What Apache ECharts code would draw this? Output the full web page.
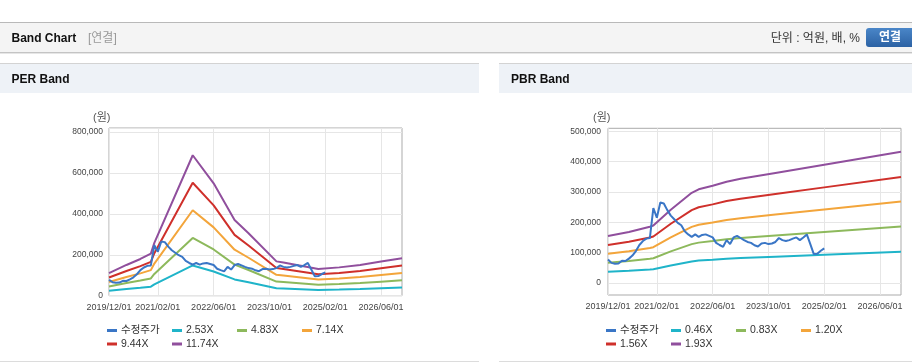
<!DOCTYPE html>
<html><head><meta charset="utf-8">
<script src="https://cdn.jsdelivr.net/npm/echarts@6/dist/echarts.min.js"></script>
<style>html,body{margin:0;padding:0;background:#fff}#c{width:912px;height:364px}</style>
</head><body><div id="c"></div>
<script>
const FONT = "'Liberation Sans', 'Noto Sans CJK KR', sans-serif";

// x axis: monthly categories 2019/12 .. 2026/12
const startYear = 2019, startMonth = 12, monthCount = 85;
const categories = [];
for (let i = 0; i < monthCount; i++) {
  const m = startMonth - 1 + i;
  categories.push((startYear + Math.floor(m / 12)) + '/' + String(m % 12 + 1).padStart(2, '0') + '/01');
}
const tickLabels = ['2019/12/01', '2021/02/01', '2022/06/01', '2023/10/01', '2025/02/01', '2026/06/01'];

// 수정주가 (monthly, 2019/12 .. 2025/02)
const price = [77000, 66000, 63000, 64000, 73000, 72000, 80000, 90000, 105000, 125000, 138000, 146000, 148000,
  247000, 215000, 265000, 262000, 240000, 222000, 210000, 198000, 190000, 170000, 160000, 152000,
  160000, 152000, 158000, 160000, 155000, 150000, 132000, 125000, 119000, 141000, 128000, 150000,
  155000, 148000, 141000, 135000, 132000, 124000, 120000, 130000, 132000, 128000, 130000, 135000,
  148000, 141000, 138000, 141000, 146000, 150000, 141000, 150000, 160000, 128000, 95000, 96000, 106000, 114000];

// PER band (values at month indices perIdx)
const perNames = ['2.53X', '4.83X', '7.14X', '9.44X', '11.74X'];
const perIdx = [0, 5, 9, 12, 13, 24, 30, 36, 40, 48, 50, 60, 66, 72, 78, 84];
const per253 = [23800, 32400, 38700, 44300, 55700, 148000, 118400, 79700, 65800, 36200, 34900, 28100, 29900, 32400, 35900, 39500];
const per483 = [45400, 61800, 73900, 84500, 106300, 282600, 226000, 152100, 125600, 69100, 66700, 53600, 57000, 61800, 68600, 75300];
const per714 = [67100, 91400, 109200, 125000, 157100, 417700, 334200, 224900, 185600, 102100, 98500, 79300, 84300, 91400, 101400, 111400];
const per944 = [88700, 120800, 144400, 165200, 207700, 552200, 441800, 297400, 245400, 135000, 130300, 104800, 111400, 120800, 134000, 147300];
const per1174 = [110400, 150300, 179600, 205500, 258300, 686800, 549400, 369800, 305200, 167900, 162000, 130300, 138500, 150300, 166700, 183100];

// PBR band (values at month indices pbrIdx)
const pbrNames = ['0.46X', '0.83X', '1.20X', '1.56X', '1.93X'];
const pbrIdx = [0, 6, 12, 13, 18, 24, 26, 30, 34, 38, 48, 62, 84];
const pbr046 = [36800, 40000, 44200, 45100, 57500, 70800, 73600, 76400, 79600, 81900, 86500, 92900, 103000];
const pbr083 = [66400, 72200, 79700, 81300, 103800, 127800, 132800, 137800, 143600, 147700, 156000, 167700, 185900];
const pbr120 = [96000, 104400, 115200, 117600, 150000, 184800, 192000, 199200, 207600, 213600, 225600, 242400, 268800];
const pbr156 = [124800, 135700, 149800, 152900, 195000, 240200, 249600, 259000, 269900, 277700, 293300, 315100, 349400];
const pbr193 = [154400, 167900, 185300, 189100, 241300, 297200, 308800, 320400, 333900, 343500, 362800, 389900, 432300];

const priceColor = '#3a76c6';
const bandColors = ['#1fb4c9', '#8db95c', '#f3a53b', '#cf302b', '#904f9d'];

const pairs = (idx, vals) => idx.map((x, i) => [x, vals[i]]);
const isTick = (i) => tickLabels.indexOf(categories[i]) >= 0;
const fmt = (v) => String(v).replace(/\B(?=(\d{3})+(?!\d))/g, ',');

function xAxis(gi) {
  return {
    type: 'category', gridIndex: gi, data: categories, boundaryGap: false,
    axisLine: { show: false }, axisTick: { show: false },
    axisLabel: { interval: isTick, fontSize: 9, color: '#444', fontFamily: FONT, margin: 7 },
    splitLine: { show: true, interval: isTick, lineStyle: { color: '#e6e6e6', width: 1 } }
  };
}

const chart = echarts.init(document.getElementById('c'), null, { renderer: 'canvas' });

const series = [];
const perVals = [per253, per483, per714, per944, per1174];
const pbrVals = [pbr046, pbr083, pbr120, pbr156, pbr193];
perNames.forEach((n, i) => series.push({
  name: n, type: 'line', xAxisIndex: 0, yAxisIndex: 0, data: pairs(perIdx, perVals[i]),
  showSymbol: false, symbol: 'none', lineStyle: { width: 2, color: bandColors[i] }, itemStyle: { color: bandColors[i] }, z: 2
}));
series.push({
  name: '수정주가', type: 'line', xAxisIndex: 0, yAxisIndex: 0, data: price,
  showSymbol: false, symbol: 'none', lineStyle: { width: 2, color: priceColor }, itemStyle: { color: priceColor }, z: 3
});
pbrNames.forEach((n, i) => series.push({
  name: n, type: 'line', xAxisIndex: 1, yAxisIndex: 1, data: pairs(pbrIdx, pbrVals[i]),
  showSymbol: false, symbol: 'none', lineStyle: { width: 2, color: bandColors[i] }, itemStyle: { color: bandColors[i] }, z: 2
}));
series.push({
  name: '수정주가', type: 'line', xAxisIndex: 1, yAxisIndex: 1, data: price,
  showSymbol: false, symbol: 'none', lineStyle: { width: 2, color: priceColor }, itemStyle: { color: priceColor }, z: 3
});

function legend(name, x, y) {
  return {
    data: [name], left: x, top: y - 7, padding: 0, itemWidth: 10, itemHeight: 3, icon: 'rect',
    selectedMode: false, itemGap: 0,
    textStyle: { fontSize: 10.5, color: '#333', fontFamily: FONT, lineHeight: 14, padding: [0, 0, 0, -1] }
  };
}
const leftLegendNames = ['수정주가'].concat(perNames);
const rightLegendNames = ['수정주가'].concat(pbrNames);
const colX = [[107, 172, 237, 302], [606, 671, 736, 801]];
const legends = [];
[leftLegendNames, rightLegendNames].forEach((names, side) => {
  names.forEach((n, i) => {
    const row = i < 4 ? 0 : 1;
    const col = i < 4 ? i : i - 4;
    legends.push(legend(n, colX[side][col], row === 0 ? 330.5 : 344));
  });
});

const txt = (x, y, t, o) => ({ type: 'text', x, y, style: Object.assign({ text: t, font: '12px ' + FONT, fill: '#222', textVerticalAlign: 'middle', verticalAlign: 'middle' }, o || {}) });
const rect = (x, y, w, h, fill) => ({ type: 'rect', shape: { x, y, width: w, height: h }, style: { fill }, silent: true });

const graphic = [
  rect(0, 22, 912, 30, '#f4f4f4'),
  rect(0, 22, 912, 1, '#b9b9b9'),
  rect(0, 52, 912, 1, '#c4c4c4'),
  rect(0, 53, 912, 1, '#e6e6e6'),
  rect(0, 63, 479, 1, '#d3d3d3'),
  rect(0, 64, 479, 29, '#eef2f7'),
  rect(499, 63, 413, 1, '#d3d3d3'),
  rect(499, 64, 413, 29, '#eef2f7'),
  rect(0, 361, 479, 1, '#dcdcdc'),
  rect(499, 361, 413, 1, '#dcdcdc'),
  txt(11.5, 38.5, 'Band Chart', { font: 'bold 12px ' + FONT, fill: '#111' }),
  txt(88, 38.5, '[연결]', { font: '12px ' + FONT, fill: '#999' }),
  txt(860, 38.5, '단위 : 억원, 배, %', { font: '12px ' + FONT, fill: '#333', align: 'right', textAlign: 'right' }),
  { type: 'rect', shape: { x: 866, y: 28, width: 52, height: 19, r: 3 }, silent: true,
    style: { fill: new echarts.graphic.LinearGradient(0, 0, 0, 1, [{ offset: 0, color: '#4a86c8' }, { offset: 1, color: '#2c62a4' }]) } },
  txt(890, 38, '연결', { font: 'bold 12px ' + FONT, fill: '#fff', align: 'center', textAlign: 'center' }),
  txt(11.5, 80, 'PER Band', { font: 'bold 12px ' + FONT, fill: '#111' }),
  txt(511, 80, 'PBR Band', { font: 'bold 12px ' + FONT, fill: '#111' }),
  txt(93, 118, '(원)', { font: '11px ' + FONT, fill: '#555' }),
  txt(593, 118, '(원)', { font: '11px ' + FONT, fill: '#555' })
];

chart.setOption({
  animation: false,
  backgroundColor: '#fff',
  graphic,
  legend: legends,
  grid: [
    { left: 109, top: 128, width: 293, height: 167.7, show: true, borderColor: '#ababab', borderWidth: 1, containLabel: false },
    { left: 608, top: 128.3, width: 293, height: 166.7, show: true, borderColor: '#ababab', borderWidth: 1, containLabel: false }
  ],
  xAxis: [xAxis(0), xAxis(1)],
  yAxis: [
    { type: 'value', gridIndex: 0, min: 0, max: 820000, interval: 200000,
      axisLine: { show: false }, axisTick: { show: false },
      axisLabel: { fontSize: 8.5, color: '#444', fontFamily: FONT, margin: 6, formatter: v => (v % 200000 === 0 ? fmt(v) : '') },
      splitLine: { show: true, lineStyle: { color: '#e6e6e6' } } },
    { type: 'value', gridIndex: 1, min: -40000, max: 510000, interval: 20000,
      axisLine: { show: false }, axisTick: { show: false },
      axisLabel: { fontSize: 8.5, color: '#444', fontFamily: FONT, margin: 7, formatter: v => (v >= 0 && v % 100000 === 0 ? fmt(v) : '') },
      splitLine: { show: true, lineStyle: { color: ['transparent', 'transparent', '#e6e6e6', 'transparent', 'transparent'] } } }
  ],
  series
});
</script></body></html>
